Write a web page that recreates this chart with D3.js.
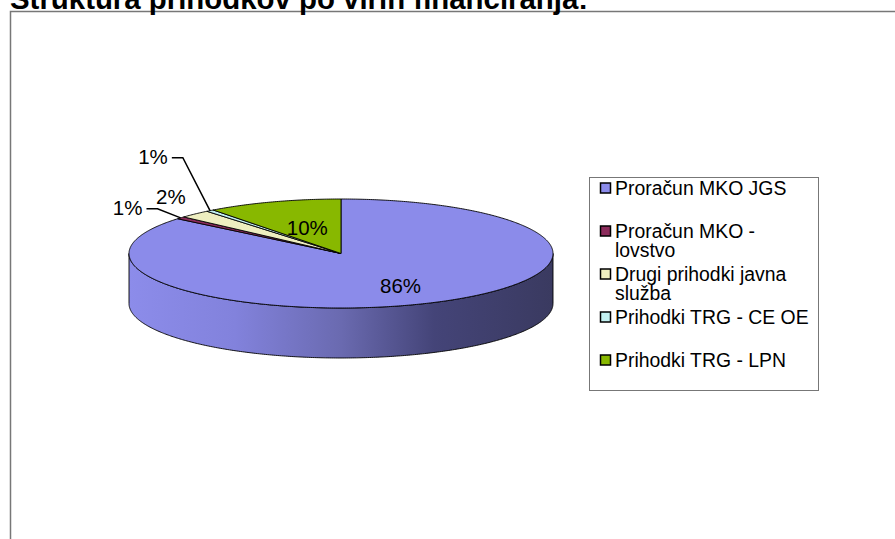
<!DOCTYPE html>
<html>
<head>
<meta charset="utf-8">
<script src="https://cdn.jsdelivr.net/npm/d3@7"></script>
<style>
  body { margin: 0; background: #fff; }
  svg { display: block; font-family: "Liberation Sans", Arial, sans-serif; }
</style>
</head>
<body>
<div id="chart"></div>
<script>
// DATA
let categories = ["Proračun MKO JGS", "Proračun MKO - lovstvo", "Drugi prihodki javna služba", "Prihodki TRG - CE OE", "Prihodki TRG - LPN"];
let legendLines = [["Proračun MKO JGS"], ["Proračun MKO -", "lovstvo"], ["Drugi prihodki javna", "služba"], ["Prihodki TRG - CE OE"], ["Prihodki TRG - LPN"]];
let values = [86.0, 0.7, 2.4, 0.6, 10.3];
let pctLabels = ["86%", "1%", "2%", "1%", "10%"];
let colors = ["#8b8bea", "#8b2b5b", "#eeeec0", "#c2f0f0", "#88b800"];
let title = "Struktura prihodkov po virih financiranja:";

// PLOTTING VARIABLES
let width = 895, height = 539;
let cx = 341, cy = 253.5, rx = 212, ry = 54.5, depth = 50;

// label placement: inside labels use radial factor k, outside ones an offset from the rim point
let labelLayout = [
    {k: 0.66},
    {dx: -53, dy: -10, leader: true},
    {dx: -24, dy: -17},
    {dx: -57, dy: -54, leader: true},
    {k: 0.5}
];

let svg = d3.select('#chart')
    .append('svg')
    .attr('width', width)
    .attr('height', height);

// frame
svg.append('rect')
    .attr('x', 10.5)
    .attr('y', 11.5)
    .attr('width', 900)
    .attr('height', 560)
    .attr('fill', 'none')
    .attr('stroke', '#777')
    .attr('stroke-width', 1.5);

svg.append('text')
    .attr('x', 10)
    .attr('y', 9)
    .attr('font-size', 29.4)
    .attr('font-weight', 'bold')
    .text(title);

let defs = svg.append('defs');
let grad = defs.append('linearGradient')
    .attr('id', 'sideGrad')
    .attr('gradientUnits', 'userSpaceOnUse')
    .attr('x1', cx - rx).attr('y1', 0)
    .attr('x2', cx + rx).attr('y2', 0);
[[0, '#8c8cea'], [0.25, '#8282dc'], [0.5, '#6a6ab0'], [0.72, '#444478'], [1, '#3a3a60']].forEach(s => {
    grad.append('stop').attr('offset', s[0]).attr('stop-color', s[1]);
});

let pie = d3.pie().sort(null).value(d => d);
let arcs = pie(values);

function pt(a, dy) {
    return [cx + rx * Math.sin(a), cy - ry * Math.cos(a) + (dy || 0)];
}

function arcPoints(a0, a1, dy) {
    let n = Math.max(2, Math.ceil(Math.abs(a1 - a0) / 0.01));
    return d3.range(n + 1).map(i => pt(a0 + (a1 - a0) * i / n, dy));
}

let line = d3.line();

// side walls (only the front half is visible)
arcs.forEach((d, i) => {
    let a = Math.max(d.startAngle, Math.PI / 2);
    let b = Math.min(d.endAngle, 3 * Math.PI / 2);
    if (b <= a) return;
    let pts = arcPoints(a, b, 0).concat(arcPoints(b, a, depth));
    svg.append('path')
        .attr('d', line(pts) + 'Z')
        .attr('fill', i === 0 ? 'url(#sideGrad)' : d3.color(colors[i]).darker(1))
        .attr('stroke', '#000')
        .attr('stroke-width', 0.9);
});

// top faces
arcs.forEach((d, i) => {
    let pts = [[cx, cy]].concat(arcPoints(d.startAngle, d.endAngle, 0));
    svg.append('path')
        .attr('d', line(pts) + 'Z')
        .attr('fill', colors[i])
        .attr('stroke', '#000')
        .attr('stroke-width', 0.9)
        .attr('stroke-linejoin', 'round');
});

// percentage labels
arcs.forEach((d, i) => {
    let mid = (d.startAngle + d.endAngle) / 2;
    let rim = pt(mid, 0);
    let L = labelLayout[i];
    let x, y;
    if (L.k !== undefined) {
        x = cx + (rim[0] - cx) * L.k;
        y = cy + (rim[1] - cy) * L.k;
    } else {
        x = rim[0] + L.dx;
        y = rim[1] + L.dy;
    }
    let t = svg.append('text')
        .attr('x', x)
        .attr('y', y)
        .attr('dy', '0.35em')
        .attr('text-anchor', 'middle')
        .attr('font-size', 20.5)
        .text(pctLabels[i]);
    if (L.leader) {
        let w = t.node().getComputedTextLength();
        let x0 = x + w / 2 + 4;
        svg.append('path')
            .attr('d', line([[x0, y + 1], [x0 + 11, y + 1], rim]))
            .attr('fill', 'none')
            .attr('stroke', '#000')
            .attr('stroke-width', 1.5);
    }
});

// legend
let legend = svg.append('g');
legend.append('rect')
    .attr('x', 589.5)
    .attr('y', 177.5)
    .attr('width', 229)
    .attr('height', 213)
    .attr('fill', '#fff')
    .attr('stroke', '#777')
    .attr('stroke-width', 1);

let items = legend.selectAll('.item')
    .data(categories)
    .enter()
    .append('g')
    .attr('class', 'item')
    .attr('transform', (d, i) => `translate(600, ${188 + i * 43})`);

items.append('rect')
    .attr('x', 0.5)
    .attr('y', -5)
    .attr('width', 10)
    .attr('height', 10)
    .attr('fill', (d, i) => colors[i])
    .attr('stroke', '#000')
    .attr('stroke-width', 1.5);

items.each(function(d, i) {
    let t = d3.select(this).append('text')
        .attr('x', 15)
        .attr('y', 0)
        .attr('font-size', 19.4);
    legendLines[i].forEach((s, j) => {
        t.append('tspan')
            .attr('x', 15)
            .attr('dy', j === 0 ? '0.35em' : 19.5)
            .text(s);
    });
});
</script>
</body>
</html>
